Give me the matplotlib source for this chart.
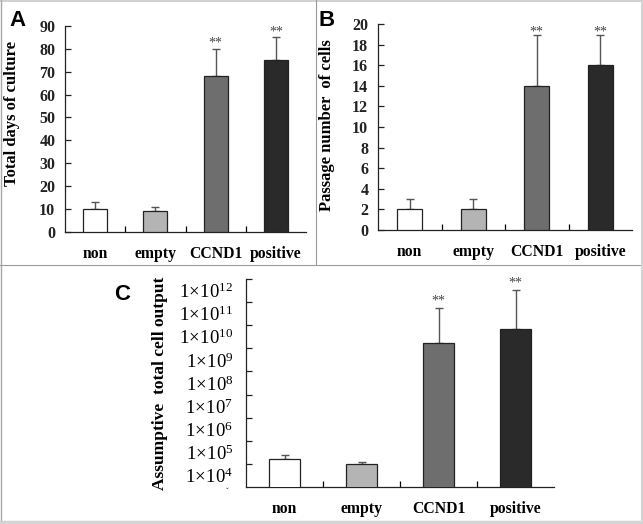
import numpy as np
import matplotlib
matplotlib.use('Agg')
from matplotlib import pyplot as plt
from matplotlib.lines import Line2D
from matplotlib.ticker import FixedLocator, NullFormatter, FixedFormatter

plt.rcParams['font.family'] = ['Liberation Serif', 'DejaVu Serif']
plt.rcParams['mathtext.fontset'] = 'custom'
plt.rcParams['mathtext.rm'] = 'Liberation Serif'
plt.rcParams['mathtext.it'] = 'Liberation Serif:italic'
plt.rcParams['mathtext.bf'] = 'Liberation Serif:bold'

groups = ['non', 'empty', 'CCND1', 'positive']
bar_colors = ['#ffffff', '#b4b4b4', '#6e6e6e', '#2a2a2a']

# panel A: total days of culture
days_mean = [10, 9, 68, 75]
days_err = [3, 2, 12, 10]

# panel B: passage number
passage_mean = [2, 2, 14, 16]
passage_err = [1, 1, 5, 3]

# panel C: total cell output (log)
output_mean = [10**4.22, 10**4.0, 10**9.22, 10**9.83]
output_top = [10**4.39, 10**4.1, 10**10.73, 10**11.53]
c_exps = [4, 5, 6, 7, 8, 9, 10, 11, 12]

fig = plt.figure(figsize=(6.43, 5.24), dpi=100)
W, H = 643.0, 524.0

def axes_px(x0, x1, ytop, ybot):
    return fig.add_axes([x0 / W, 1 - ybot / H, (x1 - x0) / W, (ybot - ytop) / H])

def style(ax):
    for s in ['top', 'right']:
        ax.spines[s].set_visible(False)
    for s in ['left', 'bottom']:
        ax.spines[s].set_linewidth(0.9)
        ax.spines[s].set_color('#222222')
    ax.tick_params(axis='y', direction='in', length=4, width=0.9, pad=7,
                   labelsize=11.5, colors='#222222')
    ax.tick_params(axis='x', which='both', length=0, pad=10, labelsize=11.3)
    ax.set_xlim(-0.5, 3.5)
    # category separator ticks on the x axis
    ax.xaxis.set_minor_locator(FixedLocator([0.5, 1.5, 2.5]))
    ax.tick_params(axis='x', which='minor', direction='in', length=4, width=0.9)
    ax.set_xticks(range(len(groups)))
    ax.set_xticklabels(groups, fontweight='bold')

def bars(ax, means, err_top, star_off):
    x = np.arange(len(groups))
    ax.bar(x, means, width=0.4, color=bar_colors, edgecolor='#222222', linewidth=0.9, zorder=3)
    yerr = [np.zeros(len(means)), np.array(err_top) - np.array(means)]
    ax.errorbar(x, means, yerr=yerr, fmt='none', ecolor='#555555', elinewidth=1.0,
                capsize=3, capthick=1.0, zorder=2)
    for i in [2, 3]:
        ax.annotate('**', (x[i], err_top[i]), xytext=(0, star_off), textcoords='offset points',
                    ha='center', va='center', fontsize=10, color='#444444')

# A
axA = axes_px(65, 306, 26, 231.7)
style(axA)
bars(axA, days_mean, np.array(days_mean) + np.array(days_err), 4)
axA.set_ylim(0, 90)
axA.set_yticks(range(0, 91, 10))
for t in axA.get_yticklabels():
    t.set_fontweight('bold')
axA.set_ylabel('Total days of culture', fontsize=12, fontweight='bold')
axA.yaxis.set_label_coords(-0.187, 0.575)

# B
axB = axes_px(378, 632, 24.3, 229.7)
style(axB)
bars(axB, passage_mean, np.array(passage_mean) + np.array(passage_err), 1.5)
axB.set_ylim(0, 20)
axB.set_yticks(range(0, 21, 2))
for t in axB.get_yticklabels():
    t.set_fontweight('bold')
axB.set_ylabel('Passage number  of cells', fontsize=12, fontweight='bold')
axB.yaxis.set_label_coords(-0.169, 0.507)

# C
axC = axes_px(246, 554, 279, 487)
style(axC)
axC.set_yscale('log')
axC.set_ylim(1e3, 1e12)
bars(axC, output_mean, output_top, 5)
axC.yaxis.set_major_locator(FixedLocator([10.0**k for k in c_exps]))
axC.yaxis.set_major_formatter(NullFormatter())
axC.yaxis.set_minor_locator(FixedLocator([10.0**(k - 0.5) for k in c_exps]))
axC.yaxis.set_minor_formatter(FixedFormatter([r'$\mathrm{1\!\times\!10^{%d}}$' % k for k in c_exps]))
axC.tick_params(axis='y', which='minor', length=0, pad=9, labelsize=13.5)
axC.set_ylabel('Assumptive  total cell output', fontsize=12.5, fontweight='bold')
axC.yaxis.set_label_coords(-0.253, 0.498)
axC.text(-0.062, -0.025, 'ˇ', transform=axC.transAxes, ha='center', va='center',
         fontsize=6, color='#444444', clip_on=False)

# panel letters
fig.text(18 / W, 1 - 21 / H, 'A', family='Liberation Sans', fontweight='bold', fontsize=16,
         ha='center', va='center')
fig.text(327 / W, 1 - 20 / H, 'B', family='Liberation Sans', fontweight='bold', fontsize=16,
         ha='center', va='center')
fig.text(122 / W, 1 - 294 / H, 'C', family='Liberation Sans', fontweight='bold', fontsize=16,
         ha='center', va='center')

# frame lines
def px_line(x0, y0, x1, y1, color, lw):
    fig.add_artist(Line2D([x0 / W, x1 / W], [1 - y0 / H, 1 - y1 / H], color=color,
                          linewidth=lw, transform=fig.transFigure))

px_line(0, 0.7, 643, 0.7, '#c8c8c8', 1.2)
px_line(0.7, 0, 0.7, 524, '#a8a8a8', 1.0)
px_line(315.5, 0, 315.5, 265, '#9a9a9a', 0.8)
px_line(0, 265, 643, 265, '#9a9a9a', 0.8)
px_line(641.5, 0, 641.5, 524, '#d4d4d4', 2.2)
px_line(0, 521.5, 643, 521.5, '#d4d4d4', 2.5)

fig.savefig('out.png', dpi=100)
